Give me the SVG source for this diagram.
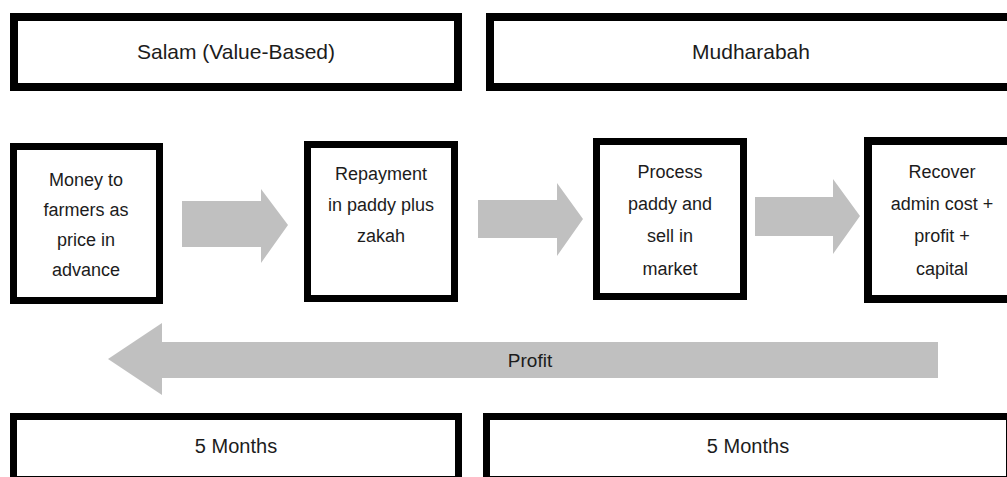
<svg xmlns="http://www.w3.org/2000/svg" width="1007" height="477" viewBox="0 0 1007 477">
<style>
.box{fill:#fff;stroke:#000;stroke-width:8}
.mbox{fill:#fff;stroke:#000;stroke-width:7}
.arr{fill:#c0c0c0}
text{font-family:"Liberation Sans",Arial,sans-serif;fill:#1c1c1c;text-anchor:middle}
.t{font-size:21px}
.m{font-size:18px}
.b{font-size:20px}
</style>
<rect width="1007" height="477" fill="#fff"/>
<g id="salam">
<rect class="box" x="14" y="17" width="444" height="70"/>
<text class="t" x="236" y="59">Salam (Value-Based)</text>
</g>
<g id="mudharabah">
<rect class="box" x="490" y="17" width="540" height="70"/>
<text class="t" x="751" y="59">Mudharabah</text>
</g>
<g id="money">
<rect class="mbox" x="13.5" y="146.5" width="146" height="154"/>
<text class="m" x="86" y="186">Money to</text>
<text class="m" x="86" y="216">farmers as</text>
<text class="m" x="86" y="246">price in</text>
<text class="m" x="86" y="276">advance</text>
</g>
<g id="repayment">
<rect class="mbox" x="307.5" y="144.5" width="147" height="154"/>
<text class="m" x="381" y="180">Repayment</text>
<text class="m" x="381" y="211">in paddy plus</text>
<text class="m" x="381" y="242">zakah</text>
</g>
<g id="process">
<rect class="mbox" x="596.5" y="141.5" width="147" height="155"/>
<text class="m" x="670" y="178">Process</text>
<text class="m" x="670" y="210">paddy and</text>
<text class="m" x="670" y="242">sell in</text>
<text class="m" x="670" y="275">market</text>
</g>
<g id="recover">
<rect class="box" x="868" y="141" width="160" height="158"/>
<text class="m" x="942" y="178">Recover</text>
<text class="m" x="942" y="210">admin cost +</text>
<text class="m" x="942" y="242">profit +</text>
<text class="m" x="942" y="275">capital</text>
</g>
<g id="months1">
<rect class="mbox" x="13.5" y="416.5" width="445" height="63"/>
<text class="b" x="236" y="453">5 Months</text>
</g>
<g id="months2">
<rect class="mbox" x="486.5" y="416.5" width="523" height="63"/>
<text class="b" x="748" y="453">5 Months</text>
</g>
<g id="connectors">
<polygon class="arr" points="182,201 261,201 261,189 288,225 261,263 261,247 182,247"/>
<polygon class="arr" points="478,200 557,200 557,183 583,219 557,256 557,238 478,238"/>
<polygon class="arr" points="755,197 833,197 833,179 860,216 833,254 833,236 755,236"/>
<polygon class="arr" points="938,342 162,342 162,323 108,359 162,395 162,378 938,378"/>
<text class="m" x="530" y="367" style="font-size:19px">Profit</text>
</g>
</svg>
